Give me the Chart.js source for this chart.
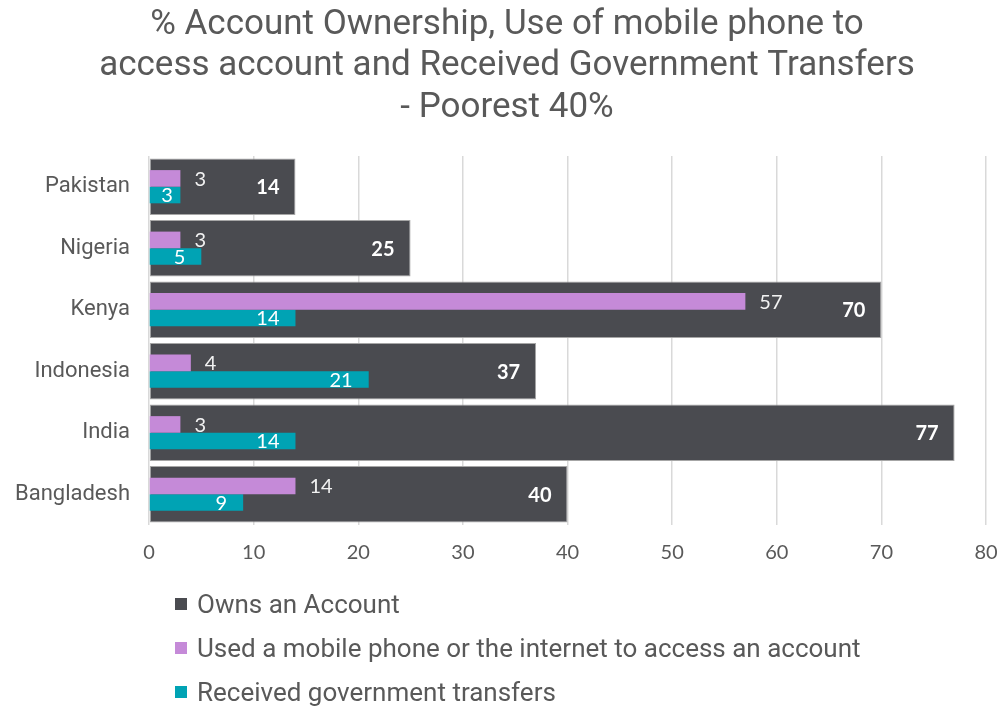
<!DOCTYPE html>
<html><head><meta charset="utf-8">
<script src="https://cdn.jsdelivr.net/npm/chart.js@4.4.1/dist/chart.umd.min.js"></script>
<style>
html,body{margin:0;padding:0;background:#fff;}
#wrap{position:relative;width:1002px;height:708px;overflow:hidden;}
#legend{position:absolute;left:175px;top:582px;font-family:Roboto,sans-serif;font-size:26px;color:#595959;}
.item{height:44px;display:flex;align-items:center;white-space:nowrap;}
.sw{width:12px;height:12px;margin-right:10px;flex:none;}
</style></head>
<body><div id="wrap"><canvas id="c" width="1002" height="708"></canvas><div id="legend"></div></div>
<script>
const titleLines = ['% Account Ownership, Use of mobile phone to', 'access account and Received Government Transfers', '- Poorest 40%'];
const categories = ['Pakistan', 'Nigeria', 'Kenya', 'Indonesia', 'India', 'Bangladesh'];
const seriesNames = ['Owns an Account', 'Used a mobile phone or the internet to access an account', 'Received government transfers'];
const ownsAccount = [14, 25, 70, 37, 77, 40];
const usedMobile = [3, 3, 57, 4, 3, 14];
const govTransfers = [3, 5, 14, 21, 14, 9];
const xTicks = [0, 10, 20, 30, 40, 50, 60, 70, 80];

const colors = ['#4a4b50', '#c58ad8', '#00a3b4'];
const labelModes = ['insideEndBold', 'outsideEnd', 'insideEnd'];

const labelPlugin = {
  id: 'barLabels',
  afterLayout(chart) {
    if (chart.titleBlock) { chart.titleBlock.left += 9; chart.titleBlock.right += 9; }
  },
  afterDatasetsDraw(chart) {
    const ctx = chart.ctx;
    chart.data.datasets.forEach((ds, i) => {
      const meta = chart.getDatasetMeta(i);
      const mode = labelModes[i];
      meta.data.forEach((el, j) => {
        const txt = String(ds.data[j]);
        ctx.save();
        ctx.font = (mode === 'insideEndBold' ? 'bold ' : '') + '20px Lato, "Open Sans", sans-serif';
        ctx.textBaseline = 'middle';
        const w = ctx.measureText(txt).width;
        let x;
        if (mode === 'outsideEnd') {
          ctx.fillStyle = '#f2f2f2';
          ctx.textAlign = 'left';
          x = el.x + 14;
        } else {
          ctx.fillStyle = '#ffffff';
          const len = el.x - el.base;
          if (len < w + 32) { ctx.textAlign = 'center'; x = (el.x + el.base) / 2 + 2; }
          else { ctx.textAlign = 'right'; x = el.x - 16; }
        }
        ctx.fillText(txt, x, el.y + 1);
        ctx.restore();
      });
    });
  }
};

new Chart(document.getElementById('c'), {
  type: 'bar',
  data: {
    labels: categories,
    datasets: [
      { label: seriesNames[0], data: ownsAccount, backgroundColor: colors[0], borderColor: '#a6a6a6', borderWidth: 1, borderSkipped: false,
        grouped: false, order: 1, categoryPercentage: 1, barPercentage: 0.92 },
      { label: seriesNames[1], data: usedMobile, backgroundColor: colors[1], borderWidth: 0,
        order: 0, categoryPercentage: 0.54, barPercentage: 1 },
      { label: seriesNames[2], data: govTransfers, backgroundColor: colors[2], borderWidth: 0,
        order: 0, categoryPercentage: 0.54, barPercentage: 1 }
    ]
  },
  options: {
    indexAxis: 'y',
    responsive: false,
    animation: false,
    layout: { padding: { left: 10, right: 16, top: 0, bottom: 138 } },
    plugins: {
      legend: { display: false },
      tooltip: { enabled: false },
      title: {
        display: true,
        text: titleLines,
        color: '#595959',
        font: { family: 'Roboto', size: 35, weight: 'normal', lineHeight: 1.19 },
        padding: { top: 4, bottom: 27 }
      }
    },
    scales: {
      x: {
        type: 'linear', min: 0, max: 80,
        afterBuildTicks: (s) => { s.ticks = xTicks.map(v => ({ value: v })); },
        afterFit: (s) => { s.height = 45; s.paddingRight = 0; s.paddingLeft = 0; },
        grid: { color: '#d9d9d9', lineWidth: 1.5, drawTicks: false },
        border: { display: false },
        ticks: { color: '#595959', padding: 16, font: { family: 'Lato', size: 20 } }
      },
      y: {
        type: 'category', labels: categories, offset: true,
        afterFit: (s) => { s.width = 139; },
        grid: { display: false },
        border: { display: false },
        ticks: { color: '#595959', padding: 11, font: { family: 'Roboto', size: 22 } }
      }
    }
  },
  plugins: [labelPlugin]
});

const lg = document.getElementById('legend');
seriesNames.forEach((n, i) => {
  const d = document.createElement('div'); d.className = 'item';
  const s = document.createElement('span'); s.className = 'sw'; s.style.background = colors[i];
  const t = document.createElement('span'); t.textContent = n;
  d.appendChild(s); d.appendChild(t); lg.appendChild(d);
});
</script>
</body></html>
